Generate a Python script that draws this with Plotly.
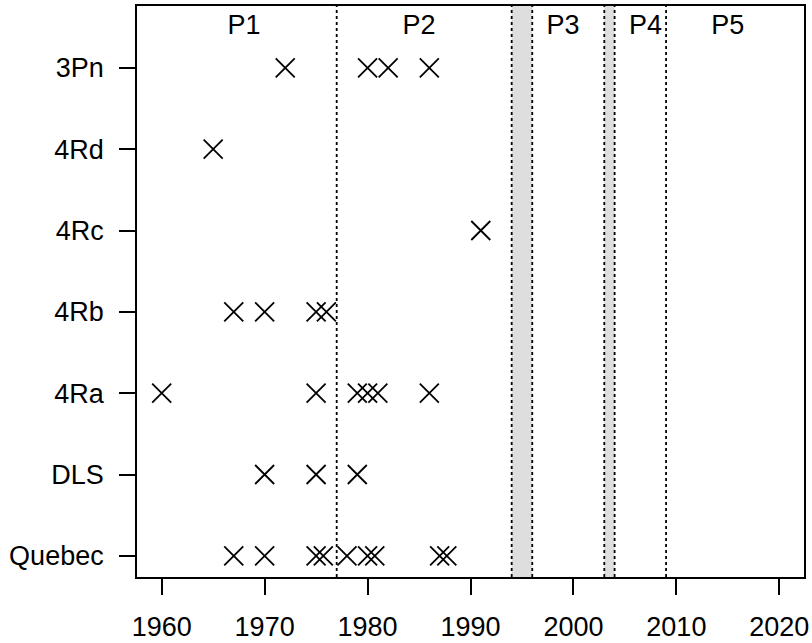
import plotly.graph_objects as go

# Categories (bottom to top)
regions = ["Quebec", "DLS", "4Ra", "4Rb", "4Rc", "4Rd", "3Pn"]

# Event years per region
years_quebec = [1967, 1970, 1975, 1975.7, 1978, 1980, 1980.7, 1987, 1987.7]
years_dls = [1970, 1975, 1979]
years_4ra = [1960, 1975, 1979, 1980, 1981, 1986]
years_4rb = [1967, 1970, 1975, 1976]
years_4rc = [1991]
years_4rd = [1965]
years_3pn = [1972, 1980, 1982, 1986]

series = [years_quebec, years_dls, years_4ra, years_4rb, years_4rc, years_4rd, years_3pn]

# Period boundaries and grey bands
boundaries = [1977, 1994, 1996, 2003, 2004, 2009]
bands = [(1994, 1996), (2003, 2004)]
period_labels = ["P1", "P2", "P3", "P4", "P5"]
period_label_x = [1968, 1985, 1999, 2007, 2015]
period_label_y = 7.5

x_ticks = [1960, 1970, 1980, 1990, 2000, 2010, 2020]

FONT = "Liberation Sans, Arial, sans-serif"
FS = 27

fig = go.Figure()

for b0, b1 in bands:
    fig.add_shape(type="rect", xref="x", yref="paper", x0=b0, x1=b1, y0=0, y1=1,
                  fillcolor="#DEDEDE", line=dict(width=0), layer="below")

for b in boundaries:
    fig.add_shape(type="line", xref="x", yref="paper", x0=b, x1=b, y0=0, y1=1,
                  line=dict(color="black", width=1.8, dash="dot"), layer="below")

xs, ys = [], []
for i, yrs in enumerate(series):
    xs.extend(yrs)
    ys.extend([i + 1] * len(yrs))

fig.add_trace(go.Scatter(
    x=xs, y=ys, mode="markers",
    marker=dict(symbol="x-thin", size=19, color="black",
                line=dict(color="black", width=1.8)),
    showlegend=False, hoverinfo="x+y",
))

fig.add_trace(go.Scatter(
    x=period_label_x, y=[period_label_y] * len(period_labels),
    mode="text", text=period_labels,
    textfont=dict(family=FONT, size=FS, color="black"),
    showlegend=False, hoverinfo="skip",
))

fig.update_layout(
    width=812, height=643,
    margin=dict(l=137, r=8, t=6, b=66),
    paper_bgcolor="white", plot_bgcolor="white",
    font=dict(family=FONT, size=FS, color="black"),
    xaxis=dict(range=[1957.6, 2022.4], tickvals=x_ticks,
               ticktext=[str(t) for t in x_ticks],
               showgrid=False, zeroline=False, automargin=False,
               showline=True, linecolor="black", linewidth=1.8, mirror=True,
               ticks="outside", ticklen=16, tickwidth=1.8, tickcolor="black",
               ticklabelstandoff=9,
               tickfont=dict(family=FONT, size=FS, color="black")),
    yaxis=dict(range=[0.74, 7.76], tickvals=list(range(1, len(regions) + 1)),
               ticktext=regions,
               showgrid=False, zeroline=False, automargin=False,
               showline=True, linecolor="black", linewidth=1.8, mirror=True,
               ticks="outside", ticklen=16, tickwidth=1.8, tickcolor="black",
               ticklabelstandoff=10,
               tickfont=dict(family=FONT, size=FS, color="black")),
)

fig.write_html("out.html")
